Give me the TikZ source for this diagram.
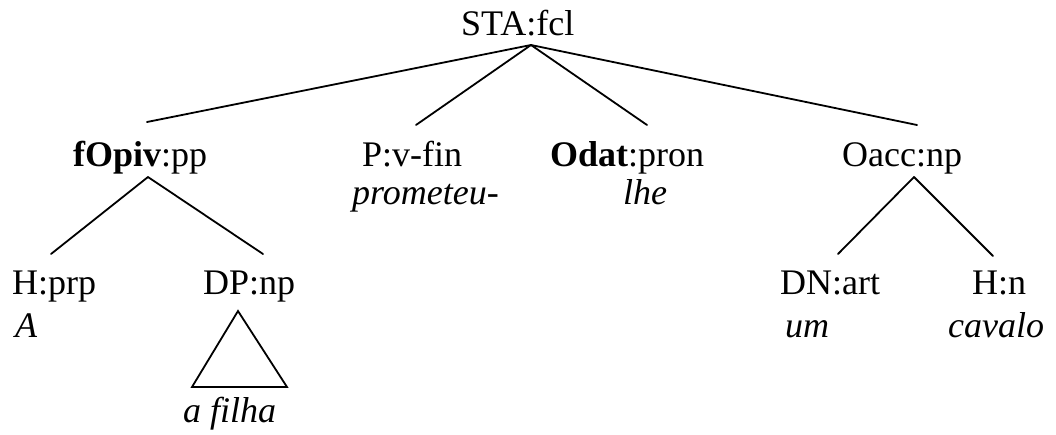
\documentclass[tikz,border=0pt]{standalone}
\usepackage{fontspec}
\setmainfont{Liberation Serif}[
  BoldFont={Liberation Serif Bold},
  ItalicFont={Liberation Serif Italic},
  BoldItalicFont={Liberation Serif Bold Italic}]
\begin{document}
\begin{tikzpicture}[x=1pt,y=-1pt,
  lbl/.style={anchor=base west,inner sep=0pt,font=\fontsize{36}{40}\selectfont},
  wrd/.style={anchor=base west,inner sep=0pt,font=\fontsize{36}{40}\selectfont\itshape},
  edge/.style={line width=1.8pt,line cap=round}]
\useasboundingbox (0,0) rectangle (1056,434);
% labels
\node[lbl] (sta) at (461,35) {STA:fcl};
\node[lbl] (fo) at (73,166) {\textbf{fOpiv}:pp};
\node[lbl] (p) at (362,166) {P:v-fin};
\node[lbl] (od) at (550,166) {\textbf{Odat}:pron};
\node[lbl] (oa) at (842,166) {Oacc:np};
\node[wrd] (wp) at (352,204) {prometeu-};
\node[wrd] (wl) at (623,204) {lhe};
\node[lbl] (hp) at (12,294) {H:prp};
\node[lbl] (dp) at (203,294) {DP:np};
\node[lbl] (dn) at (780,294) {DN:art};
\node[lbl] (hn) at (972,294) {H:n};
\node[wrd] (wa) at (15,337) {A};
\node[wrd] (wu) at (785,337) {um};
\node[wrd] (wc) at (948,337) {cavalo};
\node[wrd] (wf) at (183,422) {a filha};
% connector end points
\coordinate (staB) at (531,45);
\coordinate (foT) at (147,122);
\coordinate (pT) at (416,125);
\coordinate (odT) at (647,125);
\coordinate (oaT) at (917,125);
\coordinate (foB) at (148,177);
\coordinate (oaB) at (914,177);
\coordinate (hpT) at (51,254);
\coordinate (dpT) at (263,254);
\coordinate (dnT) at (838,254);
\coordinate (hnT) at (993,256);
\coordinate (trA) at (238,311);
\coordinate (trL) at (192,387);
\coordinate (trR) at (287,387);
% connectors
\draw[edge] (staB) -- (foT);
\draw[edge] (staB) -- (pT);
\draw[edge] (staB) -- (odT);
\draw[edge] (staB) -- (oaT);
\draw[edge] (foB) -- (hpT);
\draw[edge] (foB) -- (dpT);
\draw[edge] (oaB) -- (dnT);
\draw[edge] (oaB) -- (hnT);
\draw[edge,line join=miter] (trA) -- (trL) -- (trR) -- cycle;
\end{tikzpicture}
\end{document}
